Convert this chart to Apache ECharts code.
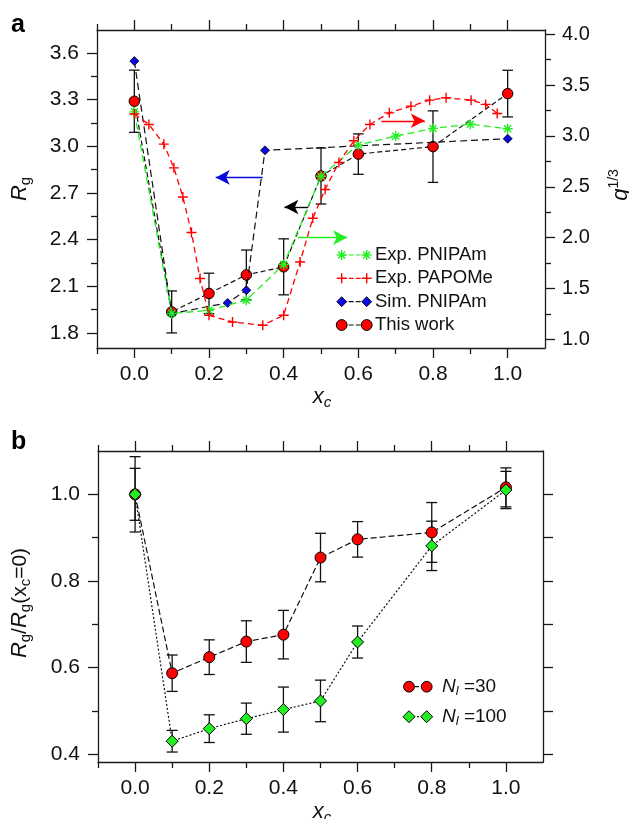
<!DOCTYPE html>
<html><head><meta charset="utf-8">
<script src="https://cdn.jsdelivr.net/npm/echarts@6/dist/echarts.min.js"></script>
<style>html,body{margin:0;padding:0;background:#fff}#c{width:629px;height:819px}</style>
</head><body><div id="c"></div>
<script>
// ---------- shared x ticks ----------
const xTicks = [0.0, 0.2, 0.4, 0.6, 0.8, 1.0];
const xMinorTicks = [-0.1, 0.1, 0.3, 0.5, 0.7, 0.9];

// ---------- panel a ----------
const aLeftTicks = [1.8, 2.1, 2.4, 2.7, 3.0, 3.3, 3.6];
const aLeftMinor = [1.95, 2.25, 2.55, 2.85, 3.15, 3.45];
const aRightTicks = [1.0, 1.5, 2.0, 2.5, 3.0, 3.5, 4.0];
const aRightMinor = [1.25, 1.75, 2.25, 2.75, 3.25, 3.75];

const thisX = [0, 0.1, 0.2, 0.3, 0.4, 0.5, 0.6, 0.8, 1.0];
const thisY = [3.29, 1.935, 2.054, 2.173, 2.225, 2.809, 2.95, 2.998, 3.339];
const thisErr = [0.20, 0.135, 0.13, 0.16, 0.18, 0.18, 0.13, 0.23, 0.15];

const simX = [0, 0.1, 0.25, 0.3, 0.35, 1.0];
const simY = [3.548, 1.925, 1.993, 2.075, 2.974, 3.049];

const pnipamX = [0, 0.1, 0.2, 0.3, 0.4, 0.5, 0.6, 0.7, 0.8, 0.9, 1.0];
const pnipamQ = [3.237, 1.253, 1.285, 1.384, 1.735, 2.604, 2.912, 2.998, 3.074, 3.116, 3.07];

const papomeX = [0.0, 0.039, 0.079, 0.106, 0.130, 0.153, 0.176, 0.200, 0.263, 0.344, 0.400, 0.444, 0.478, 0.511, 0.548, 0.588, 0.631, 0.683, 0.741, 0.791, 0.835, 0.902, 0.941, 0.972];
const papomeQ = [3.215, 3.113, 2.919, 2.686, 2.40, 2.05, 1.597, 1.236, 1.17, 1.138, 1.236, 1.76, 2.19, 2.473, 2.739, 2.952, 3.113, 3.227, 3.293, 3.352, 3.375, 3.352, 3.31, 3.221];

// annotation arrows [tail, head] in data coords
const arrowSim = [[0.344, 2.8], [0.218, 2.8]];
const arrowThis = [[0.465, 2.61], [0.402, 2.61]];
const arrowPnipam = [[0.438, 2.0], [0.570, 2.0]];
const arrowPapome = [[0.662, 3.149], [0.778, 3.149]];

const aLegend = ['Exp. PNIPAm', 'Exp. PAPOMe', 'Sim. PNIPAm', 'This work'];

// ---------- panel b ----------
const bLeftTicks = [0.4, 0.6, 0.8, 1.0];
const bLeftMinor = [0.5, 0.7, 0.9];
const bRightTicks = [0.4, 0.5, 0.6, 0.7, 0.8, 0.9, 1.0];

const bX = [0, 0.1, 0.2, 0.3, 0.4, 0.5, 0.6, 0.8, 1.0];
const n30Y = [1.0, 0.587, 0.624, 0.660, 0.676, 0.854, 0.896, 0.912, 1.016];
const n30Err = [0.06, 0.042, 0.04, 0.048, 0.056, 0.056, 0.041, 0.069, 0.045];
const n100Y = [1.0, 0.430, 0.459, 0.482, 0.503, 0.523, 0.659, 0.881, 1.010];
const n100Err = [0.087, 0.025, 0.032, 0.036, 0.052, 0.048, 0.037, 0.057, 0.043];

// ---------- styling ----------
const FONT = '"Liberation Sans", Arial, Helvetica, sans-serif';
const AX = '#1a1a1a';
const RED = '#ff0000', GREEN = '#22ee22', BLUE = '#0a0ae0';
const ASTER = 'path://M0,5L10,5M5,0L5,10M1.5,1.5L8.5,8.5M8.5,1.5L1.5,8.5';
const PLUS = 'path://M0,5L10,5M5,0L5,10';

function xAx(grid, pos, vals, len, labels, showLine) {
  return {
    type: 'value', gridIndex: grid, position: pos, min: -0.1, max: 1.1,
    axisLine: {show: showLine, onZero: false, lineStyle: {color: AX, width: 1.3}},
    axisTick: {show: true, inside: false, length: len, customValues: vals, lineStyle: {color: AX, width: 1.3}},
    axisLabel: {show: labels, customValues: vals, margin: 16, fontSize: 21, fontFamily: FONT, color: '#111',
      formatter: v => v.toFixed(1)},
    splitLine: {show: false}, minorTick: {show: false}
  };
}
function yAx(grid, pos, min, max, vals, len, labels, showLine, fs) {
  return {
    type: 'value', gridIndex: grid, position: pos, min: min, max: max,
    axisLine: {show: showLine, onZero: false, lineStyle: {color: AX, width: 1.3}},
    axisTick: {show: true, inside: false, length: len, customValues: vals, lineStyle: {color: AX, width: 1.3}},
    axisLabel: {show: labels, customValues: vals, margin: pos === 'left' ? 18 : 17, fontSize: fs || 21,
      fontFamily: FONT, color: '#111', formatter: v => v.toFixed(1)},
    splitLine: {show: false}, minorTick: {show: false}
  };
}
function errSeries(xs, ys, es, xi, yi, cap) {
  return {
    type: 'custom', xAxisIndex: xi, yAxisIndex: yi, z: 1, silent: true,
    data: xs.map((x, i) => [x, ys[i], es[i]]),
    encode: {x: 0, y: 1},
    renderItem: (p, api) => {
      const x = api.value(0), y = api.value(1), e = api.value(2);
      const t = api.coord([x, y + e]), b = api.coord([x, y - e]);
      const st = {stroke: '#111', lineWidth: 1.3};
      return {type: 'group', children: [
        {type: 'line', shape: {x1: t[0], y1: t[1], x2: b[0], y2: b[1]}, style: st},
        {type: 'line', shape: {x1: t[0] - cap, y1: t[1], x2: t[0] + cap, y2: t[1]}, style: st},
        {type: 'line', shape: {x1: b[0] - cap, y1: b[1], x2: b[0] + cap, y2: b[1]}, style: st}
      ]};
    }
  };
}
function arrowML(arr, color) {
  return {
    silent: true, symbol: ['none', 'arrow'], symbolSize: [11, 14], animation: false,
    label: {show: false}, emphasis: {disabled: true},
    lineStyle: {color: color, width: 1.4, type: 'solid'},
    data: [[{coord: arr[0]}, {coord: arr[1]}]]
  };
}
const pairs = (xs, ys) => xs.map((x, i) => [x, ys[i]]);

// ---------- legend / titles (graphic) ----------
function txt(x, y, text, rich, extra) {
  return Object.assign({
    type: 'text', x: x, y: y, silent: true,
    style: {text: text, rich: rich || {}, fontSize: 18.5, fontFamily: FONT, fill: '#111',
      align: 'left', verticalAlign: 'middle', textAlign: 'left', textVerticalAlign: 'middle'}
  }, extra || {});
}
function seg(x1, y1, x2, y2, color, w) {
  return {type: 'line', silent: true, shape: {x1: x1, y1: y1, x2: x2, y2: y2}, style: {stroke: color, lineWidth: w}};
}
function legendRow(cx1, cx2, cy, kind, lineColor, dash) {
  const els = [{type: 'line', silent: true, shape: {x1: cx1, y1: cy, x2: cx2, y2: cy},
    style: {stroke: lineColor, lineWidth: 1.2, lineDash: dash}}];
  [cx1, cx2].forEach(cx => {
    if (kind === 'circle') els.push({type: 'circle', silent: true, shape: {cx: cx, cy: cy, r: 5.4},
      style: {fill: RED, stroke: '#000', lineWidth: 1}});
    else if (kind === 'diamond') els.push({type: 'polygon', silent: true,
      shape: {points: [[cx, cy - 5], [cx + 5, cy], [cx, cy + 5], [cx - 5, cy]]},
      style: {fill: BLUE, stroke: '#000', lineWidth: 0.8}});
    else if (kind === 'gdiamond') els.push({type: 'polygon', silent: true,
      shape: {points: [[cx, cy - 6], [cx + 6, cy], [cx, cy + 6], [cx - 6, cy]]},
      style: {fill: GREEN, stroke: '#000', lineWidth: 1}});
    else if (kind === 'aster') {
      els.push(seg(cx - 5, cy, cx + 5, cy, GREEN, 1.4), seg(cx, cy - 5, cx, cy + 5, GREEN, 1.4),
        seg(cx - 3.5, cy - 3.5, cx + 3.5, cy + 3.5, GREEN, 1.4), seg(cx + 3.5, cy - 3.5, cx - 3.5, cy + 3.5, GREEN, 1.4));
    } else if (kind === 'plus') {
      els.push(seg(cx - 5, cy, cx + 5, cy, RED, 1.4), seg(cx, cy - 5, cx, cy + 5, RED, 1.4));
    }
  });
  return els;
}

const richT = {
  i: {fontStyle: 'italic', fontSize: 22, fontFamily: FONT, fill: '#111'},
  n: {fontSize: 21, fontFamily: FONT, fill: '#111'},
  s: {fontSize: 15, fontFamily: FONT, fill: '#111', padding: [11, 0, 0, 0]},
  si: {fontSize: 15, fontStyle: 'italic', fontFamily: FONT, fill: '#111', padding: [11, 0, 0, 0]},
  sup: {fontSize: 14, fontFamily: FONT, fill: '#111', padding: [0, 0, 13, 0]}
};
const richL = {
  i: {fontStyle: 'italic', fontSize: 19, fontFamily: FONT, fill: '#111'},
  n: {fontSize: 19, fontFamily: FONT, fill: '#111'},
  si: {fontSize: 13, fontStyle: 'italic', fontFamily: FONT, fill: '#111', padding: [9, 0, 0, 0]}
};
const cen = {align: 'center', textAlign: 'center'};
function ctxt(x, y, text, rot) {
  const t = txt(x, y, text, richT, {rotation: rot || 0});
  Object.assign(t.style, cen);
  return t;
}

const graphic = [].concat(
  [txt(11, 25, 'a', {}, {}), txt(11, 442, 'b', {}, {})].map(t => { t.style.fontSize = 25; t.style.fontWeight = 'bold'; t.style.fill = '#000'; return t; }),
  [ctxt(20, 189, '{i|R}{s|g}', Math.PI / 2),
   ctxt(621, 185, '{i|q}{sup|1/3}', Math.PI / 2),
   ctxt(322, 397, '{i|x}{si|c}', 0),
   ctxt(20, 603, '{i|R}{s|g}{n|/}{i|R}{s|g}{n|(x}{s|c}{n|=0)}', Math.PI / 2),
   ctxt(322, 812, '{i|x}{si|c}', 0)],
  legendRow(341.7, 366.7, 255, 'aster', GREEN, [5, 2]),
  legendRow(341.7, 366.7, 278.3, 'plus', RED, [5, 2]),
  legendRow(341.7, 366.7, 301.7, 'diamond', '#111', [5, 2]),
  legendRow(341.7, 366.7, 325, 'circle', '#111', [5, 2]),
  aLegend.map((s, i) => txt(375, [255, 278.3, 301.7, 325][i], s)),
  legendRow(409, 426.7, 686.7, 'circle', '#111', [4, 2]),
  legendRow(409, 426.7, 716.7, 'gdiamond', '#111', [2, 2]),
  [txt(442, 686.7, '{i|N}{si|l}{n| =30}', richL), txt(442, 716.7, '{i|N}{si|l}{n| =100}', richL)]
);

const option = {
  animation: false,
  backgroundColor: '#fff',
  grid: [
    {left: 97, top: 30, width: 448, height: 318},
    {left: 98, top: 451, width: 445, height: 311}
  ],
  xAxis: [
    xAx(0, 'bottom', xTicks, 10, true, true),
    xAx(0, 'bottom', xMinorTicks, 6, false, false),
    xAx(0, 'top', xTicks, 10, false, true),
    xAx(0, 'top', xMinorTicks, 6, false, false),
    xAx(1, 'bottom', xTicks, 10, true, true),
    xAx(1, 'bottom', xMinorTicks, 6, false, false),
    xAx(1, 'top', xTicks, 10, false, true),
    xAx(1, 'top', xMinorTicks, 6, false, false)
  ],
  yAxis: [
    yAx(0, 'left', 1.703, 3.748, aLeftTicks, 10, true, true),
    yAx(0, 'left', 1.703, 3.748, aLeftMinor, 6, false, false),
    yAx(0, 'right', 0.914, 4.042, aRightTicks, 10, true, true, 20),
    yAx(0, 'right', 0.914, 4.042, aRightMinor, 6, false, false),
    yAx(1, 'left', 0.382, 1.10, bLeftTicks, 10, true, true),
    yAx(1, 'left', 0.382, 1.10, bLeftMinor, 6, false, false),
    yAx(1, 'right', 0.382, 1.10, bRightTicks, 10, false, true)
  ],
  graphic: graphic,
  series: [
    errSeries(thisX, thisY, thisErr, 0, 0, 5.3),
    {name: 'This work', type: 'line', xAxisIndex: 0, yAxisIndex: 0, z: 3, silent: true,
      data: pairs(thisX, thisY), symbol: 'circle', symbolSize: 10.5,
      itemStyle: {color: RED, borderColor: '#000', borderWidth: 1},
      lineStyle: {color: '#111', width: 1.2, type: [5, 3]},
      markLine: arrowML(arrowThis, '#000')},
    {name: 'Sim. PNIPAm', type: 'line', xAxisIndex: 0, yAxisIndex: 0, z: 4, silent: true,
      data: pairs(simX, simY), symbol: 'diamond', symbolSize: 9,
      itemStyle: {color: BLUE, borderColor: '#000', borderWidth: 0.8},
      lineStyle: {color: '#111', width: 1.2, type: [7, 4]},
      markLine: arrowML(arrowSim, BLUE)},
    {name: 'Exp. PNIPAm', type: 'line', xAxisIndex: 0, yAxisIndex: 2, z: 5, silent: true,
      data: pairs(pnipamX, pnipamQ), symbol: ASTER, symbolSize: 10,
      itemStyle: {color: GREEN, borderColor: GREEN, borderWidth: 1.4},
      lineStyle: {color: GREEN, width: 1.3, type: [7, 4]},
      markLine: arrowML(arrowPnipam, GREEN)},
    {name: 'Exp. PAPOMe', type: 'line', xAxisIndex: 0, yAxisIndex: 2, z: 6, silent: true,
      data: pairs(papomeX, papomeQ), symbol: PLUS, symbolSize: 10,
      itemStyle: {color: RED, borderColor: RED, borderWidth: 1.4},
      lineStyle: {color: RED, width: 1.3, type: [6, 4]},
      markLine: arrowML(arrowPapome, RED)},
    errSeries(bX, n30Y, n30Err, 4, 4, 5.5),
    errSeries(bX, n100Y, n100Err, 4, 4, 5.5),
    {name: 'N30', type: 'line', xAxisIndex: 4, yAxisIndex: 4, z: 3, silent: true,
      data: pairs(bX, n30Y), symbol: 'circle', symbolSize: 11,
      itemStyle: {color: RED, borderColor: '#000', borderWidth: 1},
      lineStyle: {color: '#111', width: 1.2, type: [6, 3]}},
    {name: 'N100', type: 'line', xAxisIndex: 4, yAxisIndex: 4, z: 4, silent: true,
      data: pairs(bX, n100Y), symbol: 'diamond', symbolSize: 12,
      itemStyle: {color: GREEN, borderColor: '#000', borderWidth: 1},
      lineStyle: {color: '#111', width: 1.2, type: [2, 2]}}
  ]
};
const chart = echarts.init(document.getElementById('c'), null, {renderer: 'canvas'});
chart.setOption(option);
</script></body></html>
